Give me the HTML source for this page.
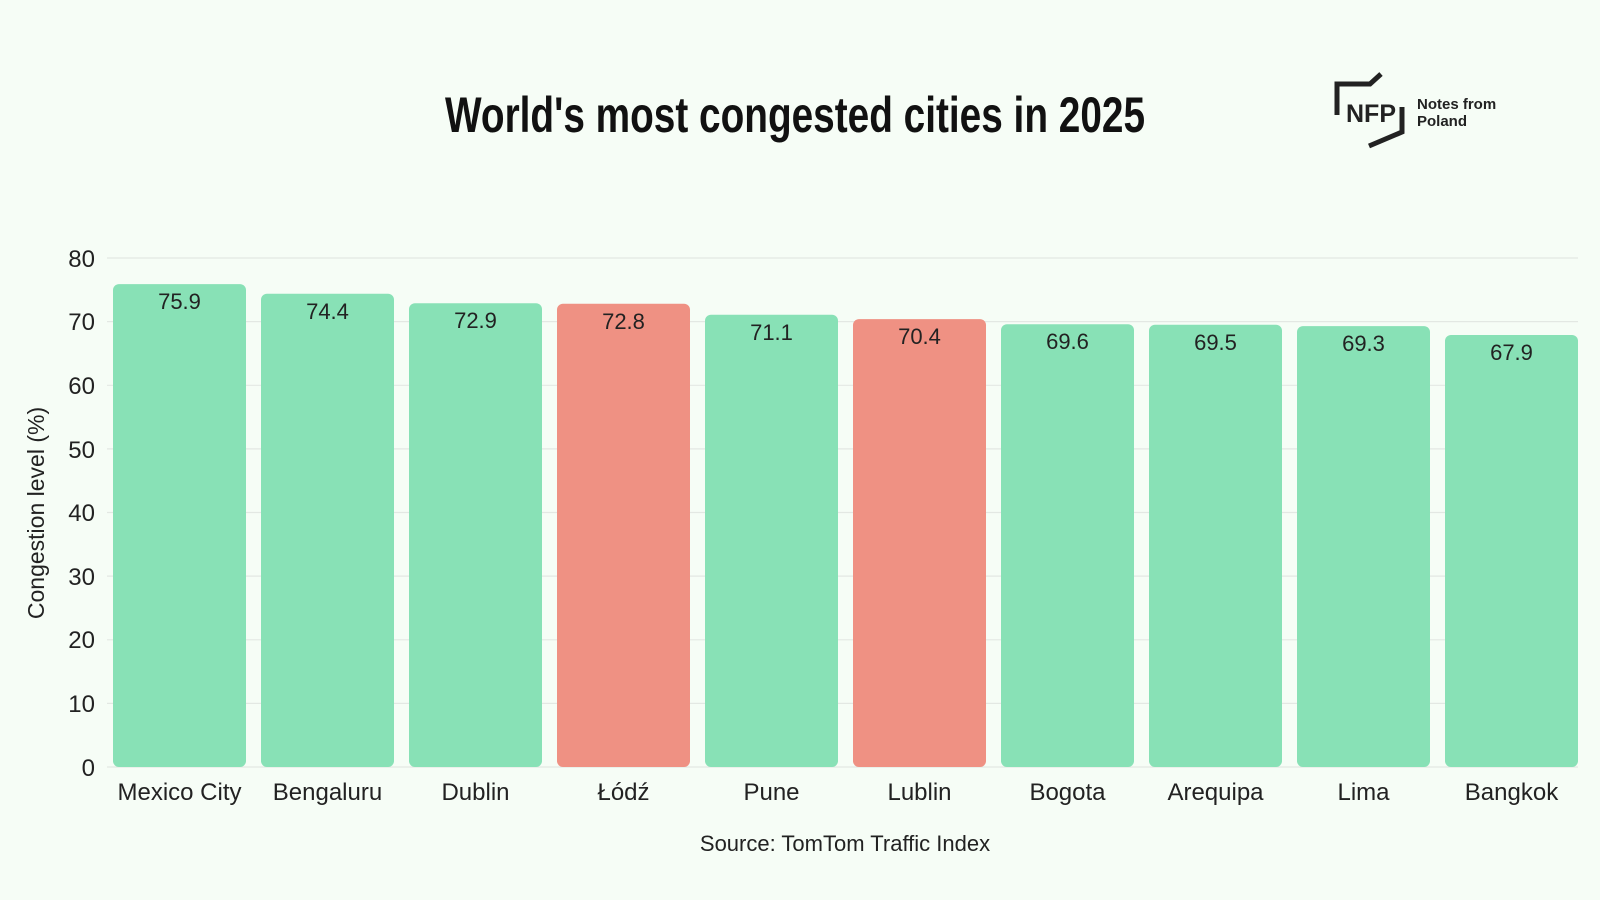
<!DOCTYPE html>
<html><head><meta charset="utf-8"><style>
html,body{margin:0;padding:0;background:#f6fdf6;}
svg{display:block;font-family:"Liberation Sans",sans-serif;}
</style></head><body>
<svg width="1600" height="900" viewBox="0 0 1600 900">
<rect width="1600" height="900" fill="#f6fdf6"/>
<text x="795" y="132" text-anchor="middle" font-size="50" font-weight="bold" fill="#111" textLength="700" lengthAdjust="spacingAndGlyphs" font-family="'Liberation Sans Narrow','Liberation Sans',sans-serif">World's most congested cities in 2025</text>
<g stroke="#222" stroke-width="5" fill="none">
<polyline points="1337,115 1337,84 1370,84 1381,74"/>
<polyline points="1402,107 1402,132 1369,146"/>
</g>
<text x="1371" y="122" text-anchor="middle" font-size="25" font-weight="bold" fill="#222" font-family="'Liberation Sans Narrow','Liberation Sans',sans-serif">NFP</text>
<text x="1417" y="109" font-size="15" font-weight="bold" fill="#222" font-family="'Liberation Sans Narrow','Liberation Sans',sans-serif">Notes from</text>
<text x="1417" y="126" font-size="15" font-weight="bold" fill="#222" font-family="'Liberation Sans Narrow','Liberation Sans',sans-serif">Poland</text>
<g stroke="#e3e8e3" stroke-width="1.2">
<line x1="107" x2="1578" y1="258" y2="258"/><line x1="107" x2="1578" y1="321.6" y2="321.6"/>
<line x1="107" x2="1578" y1="385.3" y2="385.3"/><line x1="107" x2="1578" y1="448.9" y2="448.9"/>
<line x1="107" x2="1578" y1="512.5" y2="512.5"/><line x1="107" x2="1578" y1="576.1" y2="576.1"/>
<line x1="107" x2="1578" y1="639.8" y2="639.8"/><line x1="107" x2="1578" y1="703.4" y2="703.4"/>
<line x1="107" x2="1578" y1="767" y2="767"/>
</g>
<g font-size="24" fill="#222" text-anchor="end">
<text x="95" y="267">80</text><text x="95" y="330">70</text><text x="95" y="394">60</text>
<text x="95" y="458">50</text><text x="95" y="521">40</text><text x="95" y="585">30</text>
<text x="95" y="648">20</text><text x="95" y="712">10</text><text x="95" y="776">0</text>
</g>
<text transform="translate(44,513) rotate(-90)" text-anchor="middle" font-size="23" fill="#222">Congestion level (%)</text>
<g>
<rect x="113" y="284.1" width="133" height="482.9" rx="6" fill="#88e1b6"/>
<rect x="261" y="293.7" width="133" height="473.3" rx="6" fill="#88e1b6"/>
<rect x="409" y="303.2" width="133" height="463.8" rx="6" fill="#88e1b6"/>
<rect x="557" y="303.8" width="133" height="463.2" rx="6" fill="#ef9183"/>
<rect x="705" y="314.7" width="133" height="452.3" rx="6" fill="#88e1b6"/>
<rect x="853" y="319.1" width="133" height="447.9" rx="6" fill="#ef9183"/>
<rect x="1001" y="324.2" width="133" height="442.8" rx="6" fill="#88e1b6"/>
<rect x="1149" y="324.8" width="133" height="442.2" rx="6" fill="#88e1b6"/>
<rect x="1297" y="326.1" width="133" height="440.9" rx="6" fill="#88e1b6"/>
<rect x="1445" y="335.0" width="133" height="432.0" rx="6" fill="#88e1b6"/>
</g>
<g font-size="22" fill="#222" text-anchor="middle">
<text x="179.5" y="309">75.9</text>
<text x="327.5" y="319">74.4</text>
<text x="475.5" y="328">72.9</text>
<text x="623.5" y="329">72.8</text>
<text x="771.5" y="340">71.1</text>
<text x="919.5" y="344">70.4</text>
<text x="1067.5" y="349">69.6</text>
<text x="1215.5" y="350">69.5</text>
<text x="1363.5" y="351">69.3</text>
<text x="1511.5" y="360">67.9</text>
</g>
<g font-size="24" fill="#222" text-anchor="middle">
<text x="179.5" y="800">Mexico City</text>
<text x="327.5" y="800">Bengaluru</text>
<text x="475.5" y="800">Dublin</text>
<text x="623.5" y="800">Łódź</text>
<text x="771.5" y="800">Pune</text>
<text x="919.5" y="800">Lublin</text>
<text x="1067.5" y="800">Bogota</text>
<text x="1215.5" y="800">Arequipa</text>
<text x="1363.5" y="800">Lima</text>
<text x="1511.5" y="800">Bangkok</text>
</g>
<text x="845" y="851" text-anchor="middle" font-size="22" fill="#222">Source: TomTom Traffic Index</text>
</svg>
</body></html>
